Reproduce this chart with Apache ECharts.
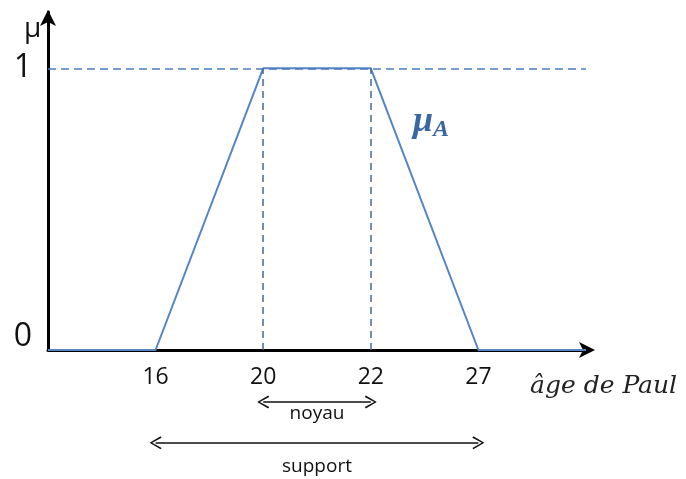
<!DOCTYPE html>
<html>
<head>
<meta charset="utf-8">
<script src="https://cdn.jsdelivr.net/npm/echarts@6/dist/echarts.min.js"></script>
<style>
  html, body { margin: 0; padding: 0; background: #fff; }
  #chart { width: 686px; height: 479px; }
</style>
</head>
<body>
<div id="chart"></div>
<script>
// fonction d'appartenance trapézoïdale
const ages = ['', '16', '20', '22', '27', ''];
const mu = [0, 0, 1, 1, 0, 0];
const yTicks = [0, 1];
const noyau = ['20', '22'];
const support = ['16', '27'];

const chevron = 'path://M0,10 L6,0 L12,10 L10.7,10.9 L6,2.4 L1.3,10.9 Z';

const chart = echarts.init(document.getElementById('chart'));

chart.setOption({
  animation: false,
  grid: [
    { left: 48, right: 100, top: 12, bottom: 129 },
    { left: 48, right: 100, top: 390, height: 80 }
  ],
  xAxis: [
    {
      type: 'category',
      data: ages,
      boundaryGap: false,
      axisLine: {
        lineStyle: { color: '#000', width: 3 },
        symbol: ['none', 'arrow'],
        symbolSize: [12, 16],
        symbolOffset: [0, 9]
      },
      axisTick: { show: false },
      axisLabel: {
        interval: 0,
        margin: 16,
        color: '#111',
        fontSize: 23,
        fontFamily: 'Open Sans'
      },
      splitLine: { show: false }
    },
    {
      gridIndex: 1,
      type: 'category',
      data: ages,
      boundaryGap: false,
      show: false
    }
  ],
  yAxis: [
    {
      type: 'value',
      min: 0,
      max: 1.2,
      axisLine: {
        show: true,
        lineStyle: { color: '#000', width: 3 },
        symbol: ['none', 'arrow'],
        symbolSize: [12, 16],
        symbolOffset: [0, 2]
      },
      axisTick: { show: false },
      splitLine: { show: false },
      axisLabel: {
        customValues: yTicks,
        margin: 16,
        formatter: function (v) { return v === 0 ? '{z|0}' : '{o|' + v + '}'; },
        rich: {
          z: { fontSize: 32, fontFamily: 'Open Sans', color: '#111', padding: [0, 0, 26, 0] },
          o: { fontSize: 32, fontFamily: 'Open Sans', color: '#111' }
        }
      }
    },
    {
      gridIndex: 1,
      type: 'value',
      min: 0,
      max: 10,
      show: false
    }
  ],
  series: [
    {
      name: 'μA',
      type: 'line',
      data: mu,
      symbol: 'none',
      lineStyle: { color: '#5585C5', width: 2 },
      z: 3,
      markLine: {
        silent: true,
        symbol: 'none',
        label: { show: false },
        data: [
          {
            yAxis: 1,
            lineStyle: { color: '#4A7CC4', type: [8, 5], width: 1.5 }
          },
          [
            { coord: [noyau[0], 0], lineStyle: { color: '#47689A', type: [7, 5], width: 1.5 } },
            { coord: [noyau[0], 1] }
          ],
          [
            { coord: [noyau[1], 0], lineStyle: { color: '#47689A', type: [7, 5], width: 1.5 } },
            { coord: [noyau[1], 1] }
          ]
        ]
      }
    },
    {
      name: 'annotations',
      type: 'line',
      xAxisIndex: 1,
      yAxisIndex: 1,
      data: [],
      markLine: {
        silent: true,
        symbol: [chevron, chevron],
        symbolSize: [13, 12],
        lineStyle: { color: '#111', type: 'solid', width: 1.5 },
        label: {
          show: true,
          position: 'insideMiddleBottom',
          color: '#111',
          fontSize: 19,
          fontFamily: 'Open Sans'
        },
        data: [
          [
            { coord: [noyau[0], 8.5], label: { formatter: 'noyau', distance: 2 } },
            { coord: [noyau[1], 8.5] }
          ],
          [
            { coord: [support[0], 3.4], label: { formatter: 'support', distance: 14 } },
            { coord: [support[1], 3.4] }
          ]
        ]
      }
    }
  ],
  graphic: [
    {
      type: 'text',
      left: 24,
      top: 15,
      style: { text: 'μ', fontSize: 28, fontFamily: 'Open Sans', fill: '#111' }
    },
    {
      type: 'text',
      left: 413,
      top: 104,
      style: {
        text: '{m|μ}{s|A}',
        rich: {
          m: { fontSize: 36, fontWeight: 'bold', fontStyle: 'italic', fontFamily: 'Liberation Serif', fill: '#3B66A4' },
          s: { fontSize: 24, fontWeight: 'bold', fontStyle: 'italic', fontFamily: 'Liberation Serif', fill: '#3B66A4', padding: [16, 0, 0, 0] }
        }
      }
    },
    {
      type: 'text',
      left: 530,
      top: 374,
      style: { text: 'âge de Paul', fontSize: 25, fontStyle: 'italic', fontFamily: 'DejaVu Serif', fill: '#222' }
    }
  ]
});
</script>
</body>
</html>
